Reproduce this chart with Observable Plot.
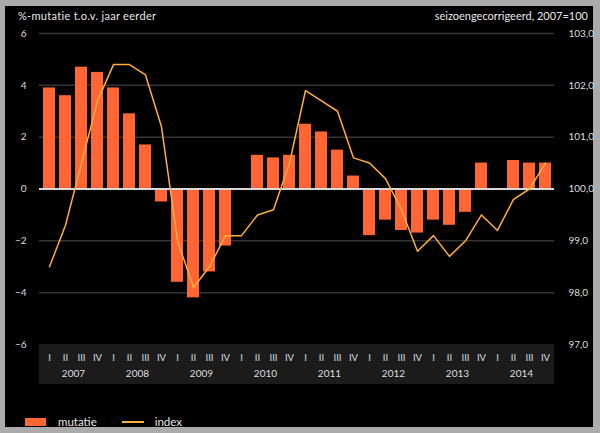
<!DOCTYPE html>
<html>
<head>
<meta charset="utf-8">
<script src="https://cdn.jsdelivr.net/npm/d3@7"></script>
<script src="https://cdn.jsdelivr.net/npm/@observablehq/plot@0.6"></script>
<style>
  html, body { margin:0; padding:0; }
  body { width:600px; height:433px; background:#ababab; position:relative; overflow:hidden; font-family: Lato, "Noto Sans", sans-serif; }
  #panel { position:absolute; left:5px; top:6px; width:588px; height:421px; background:#000; }
  #band { position:absolute; left:39px; top:344px; width:515px; height:40px; background:#1b1b1b; }
  #chart { position:absolute; left:0; top:0; }
  .title { position:absolute; top:8px; color:#e8e8e8; font-size:11px; line-height:16px; white-space:nowrap; }
  #tl { left:18px; letter-spacing:0.3px; }
  #tr { right:12px; }
  #legend { position:absolute; left:25px; top:413px; height:16px; color:#e8e8e8; font-size:11.5px; line-height:16px; white-space:nowrap; }
  #legend span { display:inline-block; vertical-align:middle; }
</style>
</head>
<body>
<div id="panel"></div>
<div id="band"></div>
<div id="chart"></div>
<div class="title" id="tl">%-mutatie t.o.v. jaar eerder</div>
<div class="title" id="tr">seizoengecorrigeerd, 2007=100</div>
<div id="legend">
  <span style="width:21px;height:8px;background:#FF6633;"></span>
  <span style="margin-left:9px;">mutatie</span>
  <span style="margin-left:22px;width:22px;height:2px;background:#FFAE3C;"></span>
  <span style="margin-left:8px;">index</span>
</div>
<script>
const years = [2007, 2008, 2009, 2010, 2011, 2012, 2013, 2014];
const quarters = ["I", "II", "III", "IV"];
const mutatie = [
  3.9, 3.6, 4.7, 4.5,
  3.9, 2.9, 1.7, -0.5,
  -3.6, -4.2, -3.2, -2.2,
  0, 1.3, 1.2, 1.3,
  2.5, 2.2, 1.5, 0.5,
  -1.8, -1.2, -1.6, -1.7,
  -1.2, -1.4, -0.9, 1.0,
  0, 1.1, 1.0, 1.0
];
const indexValues = [
  98.5, 99.3, 100.5, 101.7,
  102.4, 102.4, 102.2, 101.2,
  99.0, 98.1, 98.5, 99.1,
  99.1, 99.5, 99.6, 100.5,
  101.9, 101.7, 101.5, 100.6,
  100.5, 100.2, 99.6, 98.8,
  99.1, 98.7, 99.0, 99.5,
  99.2, 99.8, 100.0, 100.5
];
const leftTicks = [-6, -4, -2, 0, 2, 4, 6];

const rows = years.flatMap((y, i) => quarters.map((q, j) => ({
  key: `${y}-${q}`, year: y, q, mutatie: mutatie[i * 4 + j], index: indexValues[i * 4 + j]
})));
const keys = rows.map(d => d.key);
const fmt = v => (100 + v / 2).toFixed(1).replace(".", ",");
const step = 515 / keys.length;

const chart = Plot.plot({
  width: 600, height: 433,
  marginLeft: 39, marginRight: 46, marginTop: 33, marginBottom: 89,
  style: { background: "transparent", color: "#dedede", fontFamily: "Lato, 'Noto Sans', sans-serif", fontSize: "10px" },
  x: { type: "band", domain: keys, paddingInner: 0.28, paddingOuter: 0.14, label: null },
  y: { domain: [-6, 6], label: null },
  marks: [
    Plot.ruleY(leftTicks.filter(v => v !== 0 && v !== -6), { stroke: "#363636", strokeWidth: 1.5 }),
    Plot.barY(rows, { x: "key", y: "mutatie", fill: "#FF6633" }),
    Plot.ruleY([0], { stroke: "#d8d8d8", strokeWidth: 2 }),
    Plot.lineY(rows, { x: "key", y: d => (d.index - 100) * 2, stroke: "#FFAE3C", strokeWidth: 1.5 }),
    Plot.axisY({ ticks: leftTicks, anchor: "left", tickSize: 0, tickPadding: 13, label: null }),
    Plot.axisY({ ticks: leftTicks, anchor: "right", tickSize: 0, tickPadding: 14, tickFormat: fmt, label: null }),
    Plot.axisX({ anchor: "bottom", tickSize: 0, tickPadding: 10, tickFormat: d => d.split("-")[1], fontSize: 9.5, label: null }),
    Plot.axisX({ anchor: "bottom", ticks: keys.filter(k => k.endsWith("-III")), tickSize: 0, tickPadding: 25, dx: -step / 2, tickFormat: d => d.slice(0, 4), label: null })
  ]
});
document.getElementById("chart").appendChild(chart);
</script>
</body>
</html>
